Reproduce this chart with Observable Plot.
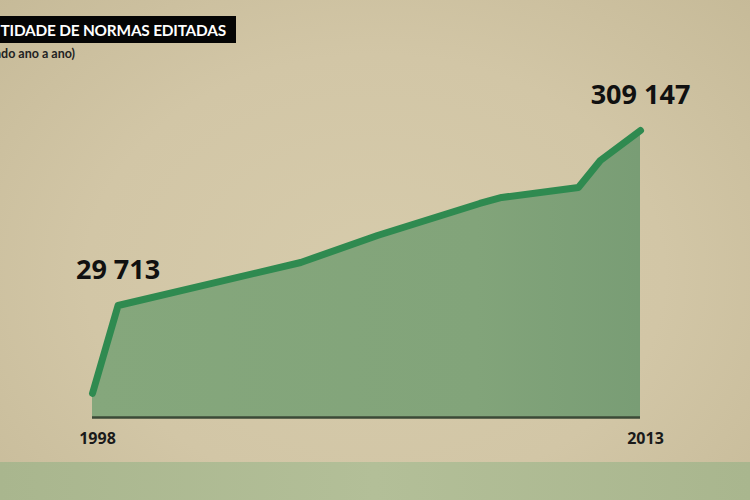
<!DOCTYPE html>
<html>
<head>
<meta charset="utf-8">
<script src="https://cdn.jsdelivr.net/npm/d3@7"></script>
<script src="https://cdn.jsdelivr.net/npm/@observablehq/plot@0.6"></script>
<style>
  html, body { margin: 0; padding: 0; overflow: hidden; }
  #wrap {
    position: relative; width: 750px; height: 500px; overflow: hidden;
    background: radial-gradient(ellipse 70% 80% at 50% 55%, #d6cbab 0%, #d2c6a6 55%, #c6ba98 100%);
    font-family: Lato, "Open Sans", sans-serif;
  }
  #title {
    position: absolute; top: 16px; right: 514px; height: 27px; line-height: 28px;
    background: #050505; color: #fff; font-weight: 700; font-size: 15.4px;
    padding: 0 10px 0 20px; white-space: nowrap; letter-spacing: -0.2px;
  }
  #subtitle {
    position: absolute; top: 46px; right: 675px; white-space: nowrap;
    font-weight: 700; font-size: 12.5px; color: #222;
  }
  #band {
    position: absolute; left: 0; top: 462px; width: 750px; height: 38px;
    background: linear-gradient(90deg, #a9b68e 0%, #b3bf98 50%, #a9b68e 100%);
  }
  #chart { position: absolute; left: 0; top: 0; }
  #chart svg { background: transparent; }
</style>
</head>
<body>
<div id="wrap">
  <div id="band"></div>
  <div id="chart"></div>
  <div id="title">QUANTIDADE DE NORMAS EDITADAS</div>
  <div id="subtitle">(acumulado ano a ano)</div>
</div>
<script>
// Accumulated number of norms issued, by year
const years  = [1998, 1998.7, 2003.7, 2005.8, 2008.6, 2009.2, 2011.3, 2011.9, 2013];
const totals = [6400, 29713, 98400, 141500, 192600, 202200, 218100, 261200, 309147];

// Values called out on the chart
const labelYears  = [1998.7, 2013];
const labelValues = [29713, 309147];

// Years shown under the baseline
const yearTicks = [1998, 2013];

const series = years.map((year, i) => ({year, total: totals[i]}));
const callouts = labelYears.map((year, i) => ({year, total: labelValues[i]}));

const fmt = d3.formatLocale({thousands: " ", grouping: [3], decimal: ","}).format(",");

// The vertical axis is drawn in two linear pieces: the first stretch up to
// the first callout is expanded so the early growth stays readable.
const [kneeValue, peakValue] = labelValues;
const kneeShare = 112 / 287;
const squash = v => v <= kneeValue
  ? (v / kneeValue) * kneeShare
  : kneeShare + ((v - kneeValue) / (peakValue - kneeValue)) * (1 - kneeShare);

const chart = Plot.plot({
  width: 750,
  height: 500,
  margin: 0,
  style: {background: "transparent", overflow: "visible"},
  x: {domain: [1998, 2013], range: [92, 640], axis: null},
  y: {transform: squash, domain: [0, 1], range: [417, 130], axis: null},
  marks: [
    Plot.areaY(series, {x: "year", y1: 0, y2: "total", fill: "url(#areaFill)", curve: "linear"}),
    Plot.ruleY([0], {x1: 1998, x2: 2013, stroke: "#3b4a37", strokeWidth: 2.5}),
    Plot.line(series, {
      x: "year", y: "total", stroke: "#2f8a50", strokeWidth: 7,
      strokeLinecap: "round", strokeLinejoin: "round"
    }),
    Plot.text(callouts, {
      x: "year", y: "total", text: d => fmt(d.total), dy: -35,
      fontFamily: "Open Sans", fontWeight: 700, fontSize: 27, fill: "#111",
      letterSpacing: "-0.5px"
    }),
    Plot.text(yearTicks, {
      x: d => d, y: 0, text: d => String(d), dx: 5, dy: 21,
      fontFamily: "Open Sans", fontWeight: 700, fontSize: 16, fill: "#1a1a1a",
      letterSpacing: "-0.6px"
    })
  ]
});

// Soft left-to-right shading of the filled area
const svg = d3.select(chart);
const grad = svg.insert("defs", ":first-child")
  .append("linearGradient").attr("id", "areaFill")
  .attr("x1", "0").attr("x2", "1").attr("y1", "0").attr("y2", "0");
grad.append("stop").attr("offset", "0%").attr("stop-color", "#85a77c");
grad.append("stop").attr("offset", "70%").attr("stop-color", "#82a47a");
grad.append("stop").attr("offset", "100%").attr("stop-color", "#799d75");

document.getElementById("chart").append(chart);
</script>
</body>
</html>
